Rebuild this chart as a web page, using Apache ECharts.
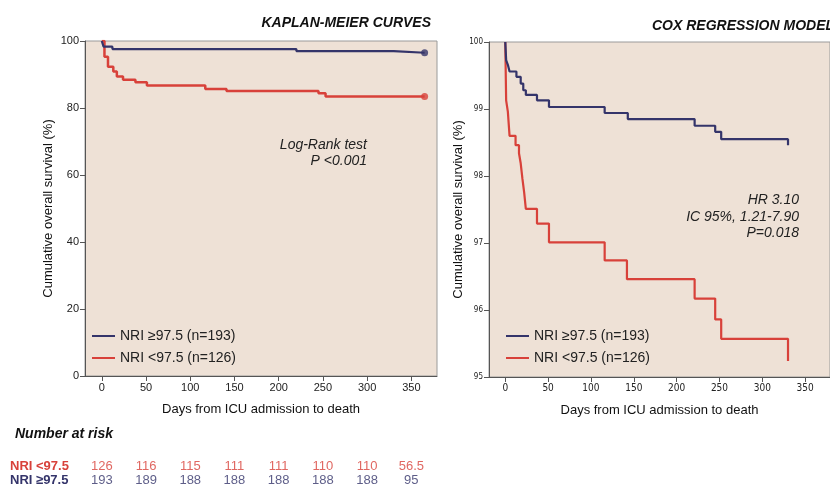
<!DOCTYPE html>
<html>
<head>
<meta charset="utf-8">
<script src="https://cdn.jsdelivr.net/npm/echarts@6/dist/echarts.min.js"></script>
<style>
  html, body { margin: 0; padding: 0; background: #ffffff; }
  #chart { width: 830px; height: 487px; }
</style>
</head>
<body>
<div id="chart"></div>
<script>
// ---- Data ----
const xTicks = [0, 50, 100, 150, 200, 250, 300, 350];

// Kaplan-Meier curves (%)
const kmDaysHigh = [0, 2, 12, 220, 330, 365];
const kmSurvHigh = [100, 98.3, 97.6, 97.0, 96.5, 96.5];
const kmDaysLow  = [0, 3, 7, 13, 17, 24, 38, 51, 117, 141, 245, 253, 365];
const kmSurvLow  = [100, 95.3, 92.3, 90.9, 89.4, 88.4, 87.7, 86.7, 85.7, 85.1, 84.4, 83.4, 83.4];

// Cox regression model curves (%)
const coxDaysHigh = [0, 1, 3, 5, 13, 18, 21, 24, 37, 51, 116, 143, 221, 245, 252, 330];
const coxSurvHigh = [100, 99.73, 99.66, 99.56, 99.48, 99.38, 99.28, 99.21, 99.13, 99.03, 98.94, 98.85, 98.75, 98.66, 98.55, 98.46];
const coxDaysLow  = [0, 1, 3, 5, 12, 16, 18, 20, 22, 24, 37, 51, 116, 142, 221, 245, 252, 330];
const coxSurvLow  = [100, 99.13, 98.96, 98.6, 98.46, 98.34, 98.19, 97.96, 97.76, 97.51, 97.29, 97.01, 96.74, 96.46, 96.17, 95.86, 95.57, 95.24];

// Number at risk
const riskDays = [0, 50, 100, 150, 200, 250, 300, 350];
const riskLow  = [126, 116, 115, 111, 111, 110, 110, 56.5];
const riskHigh = [193, 189, 188, 188, 188, 188, 188, 95];

const nameHigh = 'NRI \u226597.5 (n=193)';
const nameLow  = 'NRI <97.5 (n=126)';
const rowLabels = ['NRI \u226597.5', 'NRI <97.5'];

// ---- Styling ----
const NAVY = '#34346a';
const RED = '#d8413a';
const BG = '#eee1d6';
const FONT = '"Liberation Sans", Arial, sans-serif';
const NARROW = '"Liberation Sans Narrow", "DejaVu Sans Condensed", sans-serif';

const zip = (a, b) => a.map((v, i) => [v, b[i]]);

const chart = echarts.init(document.getElementById('chart'), null, { renderer: 'canvas' });

function xAxisFor(grid, narrow) {
  return {
    gridIndex: grid, type: 'value', min: -19, max: 379,
    axisLine: { onZero: false, lineStyle: { color: '#555', width: 1 } },
    axisTick: { show: true, customValues: xTicks, length: 5, lineStyle: { color: '#555' } },
    axisLabel: { customValues: xTicks, fontSize: narrow ? 10 : 11, color: '#222', margin: 6,
                 fontFamily: narrow ? NARROW : FONT },
    splitLine: { show: false },
    name: 'Days from ICU admission to death', nameLocation: 'middle', nameGap: 27,
    nameTextStyle: { fontSize: 13, color: '#111', fontFamily: FONT }
  };
}

function yAxisFor(grid, min, max, interval, narrow, gap) {
  return {
    gridIndex: grid, type: 'value', min: min, max: max, interval: interval,
    axisLine: { show: true, onZero: false, lineStyle: { color: '#555', width: 1 } },
    axisTick: { show: true, length: 5, lineStyle: { color: '#555' } },
    axisLabel: { fontSize: narrow ? 8 : 11, color: '#222', margin: 6,
                 fontFamily: narrow ? NARROW : FONT },
    splitLine: { show: false },
    name: 'Cumulative overall survival (%)', nameLocation: 'middle', nameGap: gap,
    nameTextStyle: { fontSize: 13, color: '#111', fontFamily: FONT }
  };
}

function riskSeries(vals, row, color) {
  return {
    type: 'scatter', name: 'risk-' + row, xAxisIndex: 2, yAxisIndex: 2,
    symbolSize: 0, itemStyle: { color: color }, silent: true,
    data: riskDays.map((d, i) => [d, row, vals[i]]),
    label: { show: true, position: [0, 0], align: 'center', verticalAlign: 'middle',
             formatter: p => String(p.value[2]),
             color: color, textBorderWidth: 0, textBorderColor: 'transparent',
             fontSize: 13, fontFamily: FONT }
  };
}

const option = {
  animation: false,
  backgroundColor: '#ffffff',
  textStyle: { fontFamily: FONT },
  title: [
    { text: 'KAPLAN-MEIER CURVES', right: 394, top: 11,
      textStyle: { fontSize: 14, fontStyle: 'italic', fontWeight: 'bold', color: '#111', fontFamily: FONT } },
    { text: 'COX REGRESSION MODEL', left: 647, top: 14,
      textStyle: { fontSize: 14, fontStyle: 'italic', fontWeight: 'bold', color: '#111', fontFamily: FONT } },
    { text: 'Number at risk', left: 10, top: 422,
      textStyle: { fontSize: 14, fontStyle: 'italic', fontWeight: 'bold', color: '#111', fontFamily: FONT } }
  ],
  graphic: [
    { type: 'text', x: 367, y: 137, z: 10,
      style: { text: 'Log-Rank test\nP <0.001', align: 'right', lineHeight: 16,
               font: 'italic 14px "Liberation Sans", Arial, sans-serif', fill: '#222' } },
    { type: 'text', x: 799, y: 192, z: 10,
      style: { text: 'HR 3.10\nIC 95%, 1.21-7.90\nP=0.018', align: 'right', lineHeight: 16.5,
               font: 'italic 14px "Liberation Sans", Arial, sans-serif', fill: '#222' } }
  ],
  legend: [
    { left: 87, top: 324, orient: 'vertical', itemWidth: 23, itemHeight: 2, itemGap: 8,
      icon: 'rect', data: [nameHigh, nameLow], selectedMode: false,
      textStyle: { fontSize: 14, color: '#222', lineHeight: 14, fontFamily: FONT } },
    { left: 501, top: 324, orient: 'vertical', itemWidth: 23, itemHeight: 2, itemGap: 8,
      icon: 'rect', data: [nameHigh, nameLow], selectedMode: false,
      textStyle: { fontSize: 14, color: '#222', lineHeight: 14, fontFamily: FONT } }
  ],
  grid: [
    { left: 85, top: 41, width: 352, height: 335, show: true, backgroundColor: BG, borderColor: '#9a9a9a', borderWidth: 1 },
    { left: 489, top: 42, width: 352, height: 335, show: true, backgroundColor: BG, borderColor: '#9a9a9a', borderWidth: 1 },
    { left: 85, top: 460, width: 352, height: 27 }
  ],
  xAxis: [
    xAxisFor(0, false),
    xAxisFor(1, true),
    { gridIndex: 2, type: 'value', min: -19, max: 379, show: false }
  ],
  yAxis: [
    yAxisFor(0, 0, 100, 20, false, 30),
    yAxisFor(1, 95, 100, 1, true, 22),
    { gridIndex: 2, type: 'category', data: rowLabels,
      axisLine: { show: false }, axisTick: { show: false },
      axisLabel: { interval: 0, align: 'left', margin: 75, fontSize: 13, fontWeight: 'bold', fontFamily: FONT,
                   color: (v, i) => (i === 1 ? RED : NAVY) } }
  ],
  series: [
    { type: 'line', name: nameLow, xAxisIndex: 0, yAxisIndex: 0, step: 'end', showSymbol: false,
      color: RED, lineStyle: { width: 2.5, color: RED }, data: zip(kmDaysLow, kmSurvLow) },
    { type: 'line', name: nameHigh, xAxisIndex: 0, yAxisIndex: 0, step: 'end', showSymbol: false,
      color: NAVY, lineStyle: { width: 2.2, color: NAVY }, data: zip(kmDaysHigh, kmSurvHigh) },
    { type: 'scatter', name: 'end-low', xAxisIndex: 0, yAxisIndex: 0, symbolSize: 7,
      itemStyle: { color: RED }, data: [[kmDaysLow[kmDaysLow.length - 1], kmSurvLow[kmSurvLow.length - 1]]] },
    { type: 'scatter', name: 'end-high', xAxisIndex: 0, yAxisIndex: 0, symbolSize: 7,
      itemStyle: { color: NAVY }, data: [[kmDaysHigh[kmDaysHigh.length - 1], kmSurvHigh[kmSurvHigh.length - 1]]] },
    { type: 'line', name: nameLow, xAxisIndex: 1, yAxisIndex: 1, step: 'end', showSymbol: false,
      color: RED, lineStyle: { width: 2.2, color: RED }, data: zip(coxDaysLow, coxSurvLow) },
    { type: 'line', name: nameHigh, xAxisIndex: 1, yAxisIndex: 1, step: 'end', showSymbol: false,
      color: NAVY, lineStyle: { width: 2.2, color: NAVY }, data: zip(coxDaysHigh, coxSurvHigh) },
    riskSeries(riskLow, rowLabels[1], RED),
    riskSeries(riskHigh, rowLabels[0], NAVY)
  ]
};

chart.setOption(option);
</script>
</body>
</html>
